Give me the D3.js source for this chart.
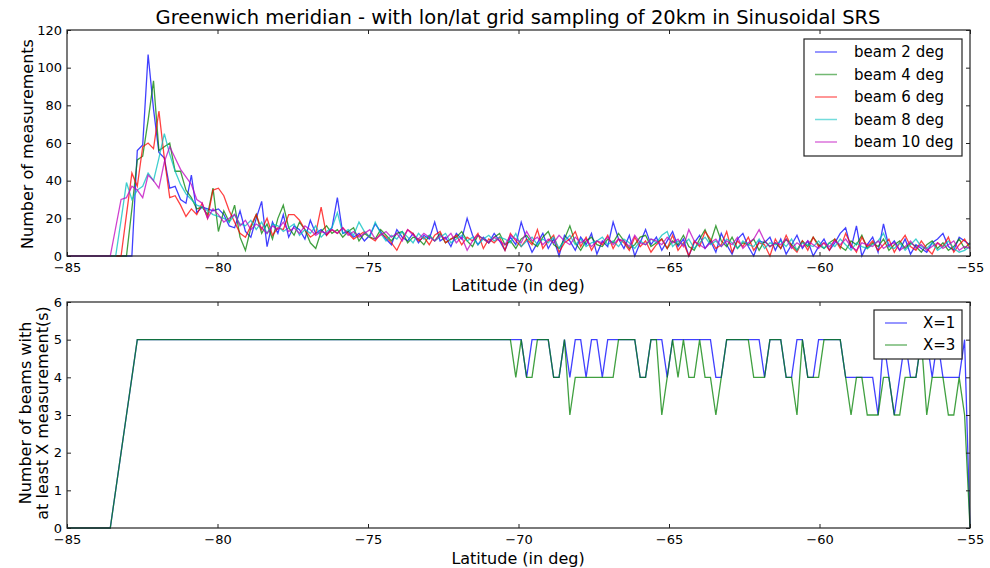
<!DOCTYPE html>
<html>
<head>
<meta charset="utf-8">
<script src="https://cdn.jsdelivr.net/npm/d3@7"></script>
<style>
body { margin: 0; background: #fff; }
svg text { font-family: "DejaVu Sans", sans-serif; fill: #000; }
</style>
</head>
<body>
<svg id="chart" width="990" height="568"></svg>
<script>
// latitude grid: 20km steps from -85 to -55 (168 samples, index based)
const latStart = -85;
const latEnd = -55;
const nSamples = 168;

const xTicks = [-85, -80, -75, -70, -65, -60, -55];
const yTicksTop = [0, 20, 40, 60, 80, 100, 120];
const yTicksBottom = [0, 1, 2, 3, 4, 5, 6];

const beamNames = ['beam 2 deg', 'beam 4 deg', 'beam 6 deg', 'beam 8 deg', 'beam 10 deg'];

const beam2 = [
    0,0,0,0,0,0,0,0,0,0,
    0,0,0,56,59,107,78,55,52,36,
    37,30,28,43,23,26,25,24,25,22,
    16,15,24,13,10,20,29,5,18,12,
    22,10,16,14,9,19,12,14,11,15,
    31,12,13,10,12,8,11,17,13,9,
    6,14,10,8,12,7,11,9,18,8,
    10,5,12,9,20,11,6,10,7,12,
    8,3,10,6,18,9,2,7,12,4,
    9,0,11,8,3,10,6,12,1,8,
    5,18,9,4,11,0,7,14,6,10,
    3,8,13,5,9,0,7,11,4,8,
    2,12,6,1,9,12,5,0,8,7,
    10,3,9,1,6,11,4,8,0,5,
    9,3,7,12,15,4,16,0,6,10,
    2,17,5,8,3,9,1,6,4,2,
    7,9,12,5,3,10,8,6
];

const beam4 = [
    0,0,0,0,0,0,0,0,0,0,0,0,
    25,51,53,72,93,56,58,60,45,45,35,31,25,26,22,36,13,
    24,18,27,10,3,15,22,12,17,9,
    20,27,15,11,18,14,7,4,13,16,
    12,14,10,13,15,8,12,10,9,14,
    11,8,12,13,7,10,9,6,11,8,
    12,7,9,10,13,8,5,11,9,7,
    10,12,6,8,4,9,11,7,5,10,
    13,6,4,9,16,7,3,8,10,6,
    5,9,7,12,8,4,6,10,11,5,
    7,9,4,8,6,11,5,3,9,14,
    7,16,8,5,10,4,7,6,9,3,
    8,5,7,4,9,6,3,8,5,10,
    6,4,7,9,5,3,8,6,11,4,
    7,5,9,3,6,8,4,7,5,2,
    6,8,4,7,3,5,9,4,7
];

const beam6 = [
    0,0,0,0,0,0,0,0,0,0,0,
    22,44,37,58,60,57,77,52,31,32,27,21,25,22,28,20,35,36,
    32,24,18,12,10,16,22,14,20,11,
    15,14,22,22,19,14,10,12,26,11,
    14,12,15,12,9,11,13,10,8,12,
    10,7,3,9,14,12,8,10,6,11,
    13,7,9,11,6,10,8,12,4,9,
    7,10,3,12,8,5,9,6,14,4,
    8,11,2,7,9,13,5,10,3,8,
    6,11,4,9,7,3,10,5,8,2,
    6,9,4,11,3,7,0,8,5,13,
    9,4,6,13,2,8,5,10,3,7,
    6,0,9,4,11,5,2,8,3,10,
    5,7,3,9,4,12,6,2,10,5,
    8,3,6,9,2,7,11,5,3,8,
    4,1,7,5,10,2,6,9,4
];

const beam8 = [
    0,0,0,0,0,0,0,0,0,0,
    19,39,30,35,37,44,40,52,65,54,45,38,33,30,27,26,24,22,21,
    20,18,22,17,16,19,14,18,12,17,
    16,13,15,17,11,14,12,16,10,13,
    15,23,12,14,11,18,13,10,18,12,
    8,11,9,13,10,7,12,9,11,8,
    10,12,7,9,11,8,10,6,9,11,
    8,10,9,7,12,5,8,10,6,9,
    7,10,4,8,11,6,9,5,7,8,
    10,6,8,5,9,7,4,8,6,9,
    7,11,13,5,8,6,9,4,7,10,
    6,8,5,9,7,4,8,6,5,9,
    4,7,6,8,5,9,3,7,6,5,
    8,4,7,5,9,6,3,7,5,4,
    6,8,12,5,4,7,3,6,9,5,
    4,7,3,5,8,4,2,3,5
];

const beam10 = [
    0,0,0,0,0,0,0,0,0,
    15,30,31,37,35,31,43,40,36,50,58,52,46,42,38,30,28,20,25,22,
    18,20,22,16,19,14,17,15,12,16,
    14,18,13,15,12,16,14,11,13,12,
    14,12,15,11,13,10,12,14,9,11,
    13,10,12,8,14,11,9,12,10,8,
    11,9,12,7,10,3,8,11,9,7,
    10,8,6,11,9,7,13,8,10,6,
    9,7,11,8,6,10,7,9,5,8,
    7,10,6,9,8,5,11,7,6,9,
    8,6,10,7,9,5,14,8,6,4,
    7,9,5,8,6,10,4,7,9,14,
    8,5,7,6,9,4,7,5,8,6,
    4,7,5,8,6,9,5,3,7,6,
    5,8,4,6,7,3,5,8,4,6,
    3,5,7,4,6,8,3,5,4
];

const countNames = ['X=1', 'X=3'];

const atLeast1 = [
    0,0,0,0,0,0,0,0,0,1,
    2,3,4,5,5,5,5,5,5,5,
    5,5,5,5,5,5,5,5,5,5,
    5,5,5,5,5,5,5,5,5,5,
    5,5,5,5,5,5,5,5,5,5,
    5,5,5,5,5,5,5,5,5,5,
    5,5,5,5,5,5,5,5,5,5,
    5,5,5,5,5,5,5,5,5,5,
    5,5,5,5,5,4,5,5,5,5,
    4,4,5,4,5,5,4,5,5,4,
    5,5,5,5,5,5,4,4,5,5,
    5,4,5,5,5,5,5,5,5,5,
    4,4,5,5,5,5,5,5,5,4,
    5,5,5,4,4,5,5,4,4,5,
    5,5,5,5,4,4,4,4,4,4,
    3,5,4,3,4,5,4,4,5,5,
    4,5,4,4,4,4,5,0
];

const atLeast3 = [
    0,0,0,0,0,0,0,0,0,1,
    2,3,4,5,5,5,5,5,5,5,
    5,5,5,5,5,5,5,5,5,5,
    5,5,5,5,5,5,5,5,5,5,
    5,5,5,5,5,5,5,5,5,5,
    5,5,5,5,5,5,5,5,5,5,
    5,5,5,5,5,5,5,5,5,5,
    5,5,5,5,5,5,5,5,5,5,
    5,5,5,4,5,4,4,5,5,5,
    4,4,5,3,4,4,4,4,4,4,
    4,4,5,5,5,5,4,4,5,5,
    3,4,5,4,5,4,4,5,4,4,
    3,4,5,5,5,5,5,4,4,4,
    5,5,5,4,4,3,5,4,4,4,
    5,5,5,5,4,3,4,4,3,3,
    3,4,4,3,3,4,4,4,5,3,
    4,4,4,3,3,4,3,0
];

const beamColors = ['#0000ff', '#008000', '#ff0000', '#00bfbf', '#bf00bf'];
const countColors = ['#0000ff', '#008000'];

const svg = d3.select('#chart');

const xScale = d3.scaleLinear()
    .domain([latStart, latEnd])
    .range([67, 970]);

const idxScale = d3.scaleLinear()
    .domain([0, nSamples - 1])
    .range([latStart, latEnd]);

const yTop = d3.scaleLinear()
    .domain([0, 120])
    .range([256, 30]);

const yBottom = d3.scaleLinear()
    .domain([0, 6])
    .range([528, 302]);

function drawAxes(yScale, yTicks) {
    const [y0, y1] = yScale.range();
    const g = svg.append('g');

    g.append('g')
        .attr('transform', `translate(0,${y0})`)
        .call(d3.axisBottom(xScale).tickValues(xTicks).tickSize(-4).tickPadding(7))
        .call(a => a.select('.domain').remove());

    g.append('g')
        .attr('transform', `translate(0,${y1})`)
        .call(d3.axisTop(xScale).tickValues(xTicks).tickSize(-4).tickFormat(''))
        .call(a => a.select('.domain').remove());

    g.append('g')
        .attr('transform', 'translate(67,0)')
        .call(d3.axisLeft(yScale).tickValues(yTicks).tickSize(-4).tickPadding(5)
            .tickFormat(d3.format('d')))
        .call(a => a.select('.domain').remove());

    g.append('g')
        .attr('transform', 'translate(970,0)')
        .call(d3.axisRight(yScale).tickValues(yTicks).tickSize(-4).tickFormat(''))
        .call(a => a.select('.domain').remove());

    g.selectAll('.tick line').attr('stroke', '#222');
    g.selectAll('.tick text')
        .style('font-size', '13px')
        .style('font-family', '"DejaVu Sans", sans-serif')
        .attr('fill', '#000');

    g.append('rect')
        .attr('x', 67)
        .attr('y', y1)
        .attr('width', 970 - 67)
        .attr('height', y0 - y1)
        .attr('fill', 'none')
        .attr('stroke', '#222')
        .attr('stroke-width', 1.2);
}

function drawLines(series, colors, yScale) {
    const line = d3.line()
        .x((d, i) => xScale(idxScale(i)))
        .y(d => yScale(d));

    svg.append('g')
        .selectAll('path')
        .data(series)
        .enter().append('path')
        .attr('d', d => line(d))
        .attr('fill', 'none')
        .attr('stroke', (d, i) => colors[i])
        .attr('stroke-opacity', 0.75)
        .attr('stroke-width', 1.3);
}

function drawLegend(names, colors, box, rowH) {
    const g = svg.append('g');
    g.append('rect')
        .attr('x', box.x).attr('y', box.y)
        .attr('width', box.w).attr('height', box.h)
        .attr('fill', '#fff')
        .attr('stroke', '#222')
        .attr('stroke-width', 1.2);

    const rows = g.selectAll('g.row')
        .data(names)
        .enter().append('g')
        .attr('transform', (d, i) => `translate(${box.x},${box.y + box.pad + i * rowH})`);

    rows.append('line')
        .attr('x1', 11).attr('x2', 33)
        .attr('stroke', (d, i) => colors[i])
        .attr('stroke-opacity', 0.55)
        .attr('stroke-width', 1.5);

    rows.append('text')
        .attr('x', box.tx)
        .attr('dy', '0.36em')
        .style('font-size', '15px')
        .text(d => d);
}

// top panel
drawLines([beam2, beam4, beam6, beam8, beam10], beamColors, yTop);
drawAxes(yTop, yTicksTop);
drawLegend(beamNames, beamColors, {x: 804, y: 39, w: 158, h: 117, pad: 13, tx: 50}, 22.5);

// bottom panel
drawLines([atLeast1, atLeast3], countColors, yBottom);
drawAxes(yBottom, yTicksBottom);
drawLegend(countNames, countColors, {x: 874, y: 310, w: 88, h: 49, pad: 13, tx: 49}, 22);

// titles and labels
svg.append('text')
    .attr('x', 518).attr('y', 24)
    .attr('text-anchor', 'middle')
    .style('font-size', '19.5px')
    .text('Greenwich meridian - with lon/lat grid sampling of 20km in Sinusoidal SRS');

svg.selectAll('text.xlabel')
    .data([291, 564])
    .enter().append('text')
    .attr('class', 'xlabel')
    .attr('x', 518).attr('y', d => d)
    .attr('text-anchor', 'middle')
    .style('font-size', '16px')
    .text('Latitude (in deg)');

svg.append('text')
    .attr('transform', 'translate(33,144) rotate(-90)')
    .attr('text-anchor', 'middle')
    .style('font-size', '16px')
    .text('Number of measurements');

const ylab = svg.append('text')
    .attr('transform', 'translate(0,413) rotate(-90)')
    .attr('text-anchor', 'middle')
    .style('font-size', '16px');
ylab.append('tspan').attr('x', 0).attr('y', 31).text('Number of beams with');
ylab.append('tspan').attr('x', 0).attr('y', 48).text('at least X measurement(s)');
</script>
</body>
</html>
